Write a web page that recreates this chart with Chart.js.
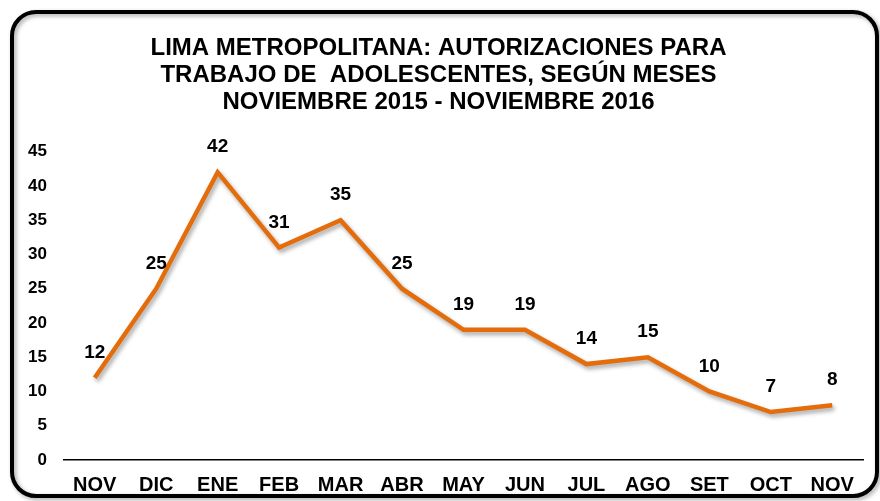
<!DOCTYPE html>
<html>
<head>
<meta charset="utf-8">
<script src="https://cdn.jsdelivr.net/npm/chart.js@4"></script>
<style>
  html, body { margin: 0; padding: 0; background: #ffffff; }
  #wrap { width: 880px; height: 501px; }
</style>
</head>
<body>
<div id="wrap"><canvas id="chart" width="880" height="501"></canvas></div>
<script>
const months = ["NOV", "DIC", "ENE", "FEB", "MAR", "ABR", "MAY", "JUN", "JUL", "AGO", "SET", "OCT", "NOV"];
const permits = [12, 25, 42, 31, 35, 25, 19, 19, 14, 15, 10, 7, 8];
const titleLines = [
    "LIMA METROPOLITANA: AUTORIZACIONES PARA",
    "TRABAJO DE  ADOLESCENTES, SEGÚN MESES",
    "NOVIEMBRE 2015 - NOVIEMBRE 2016"
];

const fontFamily = "'Liberation Sans', Arial, sans-serif";
const lineColor = "#E46C0A";

// rounded frame round the whole chart
const framePlugin = {
    id: "frame",
    beforeDraw (chart) {
        const c = chart.ctx;
        const x = 12, y = 12, w = 865, h = 484, r = 24;
        c.save();
        c.shadowColor = "rgba(0,0,0,0.35)";
        c.shadowBlur = 4;
        c.shadowOffsetX = 2;
        c.shadowOffsetY = 2;
        c.beginPath();
        c.roundRect(x, y, w, h, r);
        c.lineWidth = 4;
        c.strokeStyle = "#000000";
        c.stroke();
        c.restore();
    }
};

// soft shadow under the line
const shadowPlugin = {
    id: "lineShadow",
    beforeDatasetDraw (chart) {
        const c = chart.ctx;
        c.save();
        c.shadowColor = "rgba(0,0,0,0.35)";
        c.shadowBlur = 4;
        c.shadowOffsetX = 2;
        c.shadowOffsetY = 3;
    },
    afterDatasetDraw (chart) {
        chart.ctx.restore();
    }
};

// value labels above each point
const valueLabels = {
    id: "valueLabels",
    afterDatasetsDraw (chart) {
        const c = chart.ctx;
        const meta = chart.getDatasetMeta(0);
        c.save();
        c.font = "bold 19px " + fontFamily;
        c.fillStyle = "#000000";
        c.textAlign = "center";
        c.textBaseline = "middle";
        meta.data.forEach((pt, i) => {
            c.fillText(String(chart.data.datasets[0].data[i]), pt.x, pt.y - 25);
        });
        c.restore();
    }
};

const ctx = document.getElementById("chart");
const graph = new Chart(ctx, {
    type: "line",
    data: {
        labels: months,
        datasets: [{
            data: permits,
            borderColor: lineColor,
            borderWidth: 4.5,
            pointRadius: 0,
            tension: 0,
            fill: false
        }]
    },
    options: {
        responsive: false,
        animation: false,
        layout: {
            padding: { left: 14, right: 17, top: 14, bottom: 3 }
        },
        scales: {
            x: {
                offset: true,
                grid: { display: false, drawTicks: false },
                border: { display: true, color: "#000000", width: 1.5 },
                ticks: {
                    color: "#000000",
                    padding: 13,
                    maxRotation: 0,
                    font: { family: fontFamily, size: 20, weight: "bold" }
                },
                afterFit: function(scale) { scale.height = 38; }
            },
            y: {
                min: 0,
                max: 45,
                grid: { display: false, drawTicks: false },
                border: { display: false },
                ticks: {
                    stepSize: 5,
                    color: "#000000",
                    padding: 17,
                    font: { family: fontFamily, size: 17, weight: "bold" }
                },
                afterFit: function(scale) { scale.width = 50; }
            }
        },
        plugins: {
            legend: { display: false },
            tooltip: { enabled: false },
            title: {
                display: true,
                text: titleLines,
                color: "#000000",
                font: { family: fontFamily, size: 24, weight: "bold", lineHeight: 1.12 },
                padding: { top: 21, bottom: 36 }
            }
        }
    },
    plugins: [framePlugin, shadowPlugin, valueLabels]
});
</script>
</body>
</html>
